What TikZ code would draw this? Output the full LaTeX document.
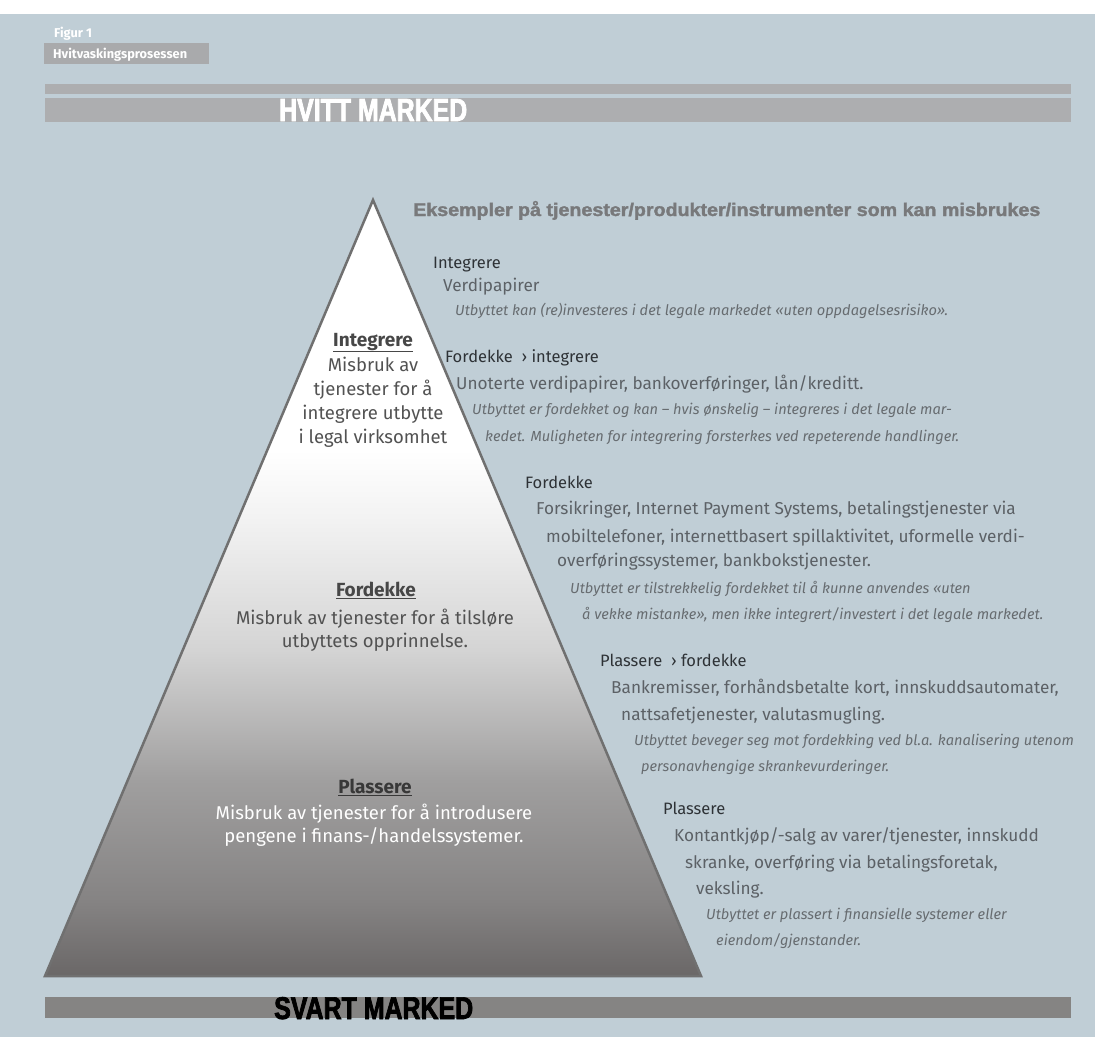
\documentclass[tikz,border=0pt]{standalone}
\usepackage{fontspec}
\setmainfont{Fira Sans}
\newfontfamily\heavyfont{Liberation Sans}[FakeStretch=0.66,FakeBold=2]
\newfontfamily\condfont{Liberation Sans}[FakeStretch=0.74,FakeBold=1.4]
\definecolor{bgblue}{HTML}{C0CED6}
\definecolor{barlight}{HTML}{ADAEB0}
\definecolor{bardark}{HTML}{858483}
\definecolor{tagbox}{HTML}{A9AAAC}
\definecolor{pyredge}{HTML}{707070}
\definecolor{pc0}{HTML}{6A6767}
\definecolor{pc1}{HTML}{858383}
\definecolor{pc2}{HTML}{A09F9F}
\definecolor{pc3}{HTML}{D4D4D4}
\definecolor{pc4}{HTML}{F2F2F2}
\definecolor{headgray}{HTML}{78797B}
\definecolor{rhead}{HTML}{2E3236}
\definecolor{rbody}{HTML}{5C6166}
\definecolor{rital}{HTML}{676C70}
\definecolor{pyrtext}{HTML}{525252}
\definecolor{pyrhead}{HTML}{474747}
\pgfdeclareverticalshading{pyrshade}{100bp}{color(0bp)=(pc0); color(25bp)=(pc0); color(29.8bp)=(pc1); color(37.6bp)=(pc2); color(46bp)=(pc3); color(54.3bp)=(pc4); color(58.9bp)=(white); color(100bp)=(white)}
\begin{document}
\begin{tikzpicture}[x=1pt,y=-1pt,
  rhd/.style={anchor=base west,inner sep=0pt,text=rhead,font=\fontsize{16.5}{19}\selectfont},
  rbd/.style={anchor=base west,inner sep=0pt,text=rbody,font=\fontsize{17.2}{20}\selectfont},
  rit/.style={anchor=base west,inner sep=0pt,text=rital,font=\fontsize{14.6}{17}\selectfont\itshape},
  phd/.style={anchor=base,inner sep=0pt,text=#1,font=\fontsize{19}{22}\selectfont\bfseries},
  pbd/.style={anchor=base,inner sep=0pt,text=#1,font=\fontsize{18.5}{22}\selectfont},
  wtag/.style={anchor=base west,inner sep=0pt,text=white,font=\fontsize{12.8}{14}\selectfont\bfseries}]
\useasboundingbox (0,0) rectangle (1095,1037);
\fill[white] (0,0) rectangle (1095,14);
\fill[bgblue] (0,14) rectangle (1095,1037);
% header
\node[wtag] (fig) at (54,37) {Figur 1};
\fill[tagbox] (44,43) rectangle (209,64);
\node[wtag] (title) at (53,58) {Hvitvaskingsprosessen};
% bars
\fill[barlight] (45,84) rectangle (1071,94);
\fill[barlight] (45,98) rectangle (1071,122);
\node[anchor=base west,inner sep=0pt,text=white] (hvitt) at (279,121) {\resizebox{188pt}{22pt}{\heavyfont\bfseries HVITT MARKED}};
\fill[bardark] (45,997) rectangle (1071,1018);
\node[anchor=base west,inner sep=0pt,text=black] (svart) at (274,1019) {\resizebox{199pt}{22pt}{\heavyfont\bfseries SVART MARKED}};
% pyramid
\coordinate (apex) at (373,200);
\coordinate (bl) at (45,976);
\coordinate (br) at (701,976);
\begin{scope}
\clip (apex) -- (bl) -- (br) -- cycle;
\shade[shading=pyrshade] (45,200) rectangle (701,976);
\end{scope}
\draw[pyredge,line width=2.5pt,line join=miter] (apex) -- (bl) -- (br) -- cycle;
% pyramid texts
\node[phd=pyrhead] (pi) at (373,346) {\underline{Integrere}};
\node[pbd=pyrtext] (pi1) at (373,371) {Misbruk av};
\node[pbd=pyrtext] (pi2) at (373,395) {tjenester for å};
\node[pbd=pyrtext] (pi3) at (373,419) {integrere utbytte};
\node[pbd=pyrtext] (pi4) at (373,443) {i legal virksomhet};
\node[phd=pyrhead] (pf) at (376,596) {\underline{Fordekke}};
\node[pbd=pyrtext] (pf1) at (375,624) {Misbruk av tjenester for å tilsløre};
\node[pbd=pyrtext] (pf2) at (375,647) {utbyttets opprinnelse.};
\node[phd={black!78}] (pp) at (375,793) {\underline{Plassere}};
\node[pbd=white] (pp1) at (374,819) {Misbruk av tjenester for å introdusere};
\node[pbd=white] (pp2) at (374,842) {pengene i finans-/handelssystemer.};
% right texts
\node[anchor=base west,inner sep=0pt,text=headgray] (eks) at (413,216) {\resizebox{627pt}{15pt}{\condfont\bfseries Eksempler på tjenester/produkter/instrumenter som kan misbrukes}};
\node[rhd] (r1) at (433,268) {Integrere};
\node[rbd] (r2) at (443,291) {Verdipapirer};
\node[rit] (r3) at (455,315) {Utbyttet kan (re)investeres i det legale markedet «uten oppdagelsesrisiko».};
\node[rhd] (r4) at (445,362) {Fordekke\ \ › integrere};
\node[rbd] (r5) at (456,389) {Unoterte verdipapirer, bankoverføringer, lån/kreditt.};
\node[rit] (r6) at (472,414) {Utbyttet er fordekket og kan – hvis ønskelig – integreres i det legale mar-};
\node[rit] (r7) at (485,441) {kedet. Muligheten for integrering forsterkes ved repeterende handlinger.};
\node[rhd] (r8) at (525,488) {Fordekke};
\node[rbd] (r9) at (536,514) {Forsikringer, Internet Payment Systems, betalingstjenester via};
\node[rbd] (r10) at (546,542) {mobiltelefoner, internettbasert spillaktivitet, uformelle verdi-};
\node[rbd] (r11) at (557,566) {overføringssystemer, bankbokstjenester.};
\node[rit] (r12) at (570,593) {Utbyttet er tilstrekkelig fordekket til å kunne anvendes «uten};
\node[rit] (r13) at (582,619) {å vekke mistanke», men ikke integrert/investert i det legale markedet.};
\node[rhd] (r14) at (600,666) {Plassere\ \ › fordekke};
\node[rbd] (r15) at (611,693) {Bankremisser, forhåndsbetalte kort, innskuddsautomater,};
\node[rbd] (r16) at (621,720) {nattsafetjenester, valutasmugling.};
\node[rit] (r17) at (634,745) {Utbyttet beveger seg mot fordekking ved bl.a. kanalisering utenom};
\node[rit] (r18) at (641,771) {personavhengige skrankevurderinger.};
\node[rhd] (r19) at (663,814) {Plassere};
\node[rbd] (r20) at (674,841) {Kontantkjøp/-salg av varer/tjenester, innskudd};
\node[rbd] (r21) at (685,868) {skranke, overføring via betalingsforetak,};
\node[rbd] (r22) at (696,894) {veksling.};
\node[rit] (r23) at (706,919) {Utbyttet er plassert i finansielle systemer eller};
\node[rit] (r24) at (716,945) {eiendom/gjenstander.};
\end{tikzpicture}
\end{document}
